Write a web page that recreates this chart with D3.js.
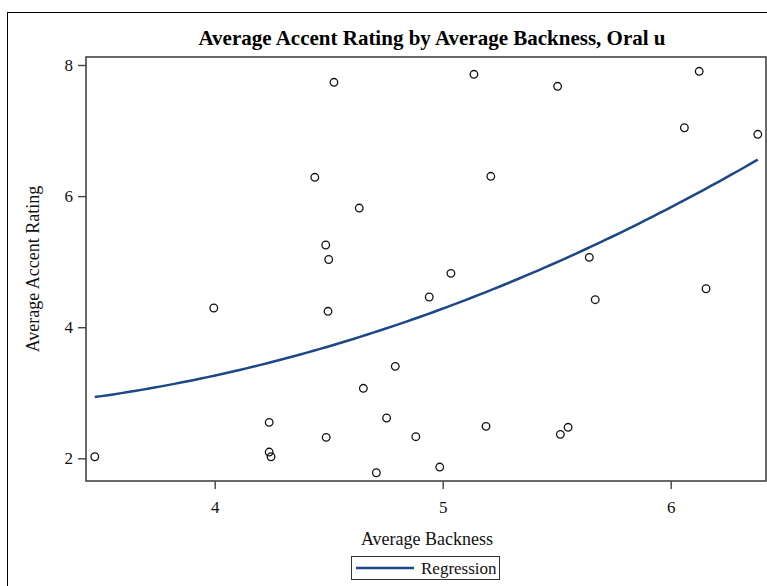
<!DOCTYPE html>
<html>
<head>
<meta charset="utf-8">
<script src="https://cdn.jsdelivr.net/npm/d3@7"></script>
<style>
  body { margin: 0; background: #fff; }
  svg { display: block; font-family: "Liberation Serif", "Times New Roman", serif; }
</style>
</head>
<body>
<svg id="chart" width="767" height="586"></svg>
<script>
// valores
const backness = [3.474, 3.996, 4.239, 4.239, 4.247, 4.439, 4.487, 4.500, 4.497, 4.489,
  4.523, 4.634, 4.652, 4.709, 4.754, 4.792, 4.882, 4.941, 4.987, 5.036,
  5.137, 5.190, 5.211, 5.504, 5.516, 5.550, 5.643, 5.669, 6.060, 6.125,
  6.155, 6.382];
const accent = [2.024, 4.293, 2.549, 2.096, 2.024, 6.287, 5.254, 5.033, 4.243, 2.320,
  7.736, 5.818, 3.068, 1.780, 2.615, 3.403, 2.330, 4.461, 1.867, 4.822,
  7.858, 2.488, 6.302, 7.675, 2.366, 2.473, 5.066, 4.420, 7.043, 7.904,
  4.587, 6.943];
const xTicks = [4, 5, 6];
const yTicks = [2, 4, 6, 8];

const svg = d3.select("#chart");

// marco exterior
svg.append("rect")
  .attr("x", 7.5).attr("y", 12.5)
  .attr("width", 790).attr("height", 600)
  .attr("fill", "none").attr("stroke", "#000").attr("stroke-width", 1);

const pLeft = 86, pRight = 766, pTop = 57, pBottom = 481;

const x = d3.scaleLinear().domain([3.4355, 6.418]).range([pLeft, pRight]);
const y = d3.scaleLinear().domain([1.654, 8.122]).range([pBottom, pTop]);

svg.append("text")
  .attr("x", 432).attr("y", 45)
  .attr("text-anchor", "middle")
  .attr("font-size", 21).attr("font-weight", "bold")
  .text("Average Accent Rating by Average Backness, Oral u");

// ajuste cuadrático (mínimos cuadrados)
function fitQuad(xs, ys) {
  const S = [0, 0, 0, 0, 0], T = [0, 0, 0];
  xs.forEach((v, i) => {
    for (let k = 0; k < 5; k++) S[k] += Math.pow(v, k);
    for (let k = 0; k < 3; k++) T[k] += ys[i] * Math.pow(v, k);
  });
  const A = [[S[0], S[1], S[2], T[0]], [S[1], S[2], S[3], T[1]], [S[2], S[3], S[4], T[2]]];
  for (let i = 0; i < 3; i++) {
    for (let j = i + 1; j < 3; j++) {
      const f = A[j][i] / A[i][i];
      for (let k = i; k < 4; k++) A[j][k] -= f * A[i][k];
    }
  }
  const c = [0, 0, 0];
  for (let i = 2; i >= 0; i--) {
    let s = A[i][3];
    for (let k = i + 1; k < 3; k++) s -= A[i][k] * c[k];
    c[i] = s / A[i][i];
  }
  return c;
}
const coef = fitQuad(backness, accent);
const xs = d3.extent(backness);
const curve = d3.range(0, 101).map(i => {
  const v = xs[0] + (xs[1] - xs[0]) * i / 100;
  return [v, coef[0] + coef[1] * v + coef[2] * v * v];
});

svg.append("path")
  .datum(curve)
  .attr("fill", "none")
  .attr("stroke", "#1d4789")
  .attr("stroke-width", 2.5)
  .attr("d", d3.line().x(d => x(d[0])).y(d => y(d[1])));

svg.append("g").selectAll("circle")
  .data(backness.map((v, i) => [v, accent[i]]))
  .join("circle")
  .attr("cx", d => x(d[0]))
  .attr("cy", d => y(d[1]))
  .attr("r", 3.8)
  .attr("fill", "none")
  .attr("stroke", "#111")
  .attr("stroke-width", 1.3);

// borde del área de trazado
svg.append("rect")
  .attr("x", pLeft).attr("y", pTop)
  .attr("width", pRight - pLeft).attr("height", pBottom - pTop)
  .attr("fill", "none").attr("stroke", "#444").attr("stroke-width", 1.6);

const xAxis = svg.append("g")
  .attr("transform", `translate(0,${pBottom})`)
  .call(d3.axisBottom(x).tickValues(xTicks).tickSize(8).tickPadding(12).tickFormat(d3.format("d")));
const yAxis = svg.append("g")
  .attr("transform", `translate(${pLeft},0)`)
  .call(d3.axisLeft(y).tickValues(yTicks).tickSize(8).tickPadding(5).tickFormat(d3.format("d")));

[xAxis, yAxis].forEach(a => {
  a.select(".domain").remove();
  a.selectAll(".tick line").attr("stroke", "#444").attr("stroke-width", 1.4);
  a.selectAll(".tick text")
    .attr("font-family", "Liberation Serif, serif")
    .attr("font-size", 17).attr("fill", "#111");
});

svg.append("text")
  .attr("x", 427).attr("y", 545)
  .attr("text-anchor", "middle")
  .attr("font-size", 18).attr("fill", "#111")
  .text("Average Backness");

svg.append("text")
  .attr("transform", "translate(39,269) rotate(-90)")
  .attr("text-anchor", "middle")
  .attr("font-size", 18).attr("fill", "#111")
  .text("Average Accent Rating");

// leyenda
const leg = svg.append("g");
leg.append("rect")
  .attr("x", 351.5).attr("y", 556.5)
  .attr("width", 148).attr("height", 23)
  .attr("fill", "none").attr("stroke", "#333").attr("stroke-width", 1);
leg.append("line")
  .attr("x1", 356).attr("x2", 414).attr("y1", 568).attr("y2", 568)
  .attr("stroke", "#1d4789").attr("stroke-width", 2.5);
leg.append("text")
  .attr("x", 421).attr("y", 574)
  .attr("font-size", 17).attr("fill", "#111")
  .text("Regression");
</script>
</body>
</html>
